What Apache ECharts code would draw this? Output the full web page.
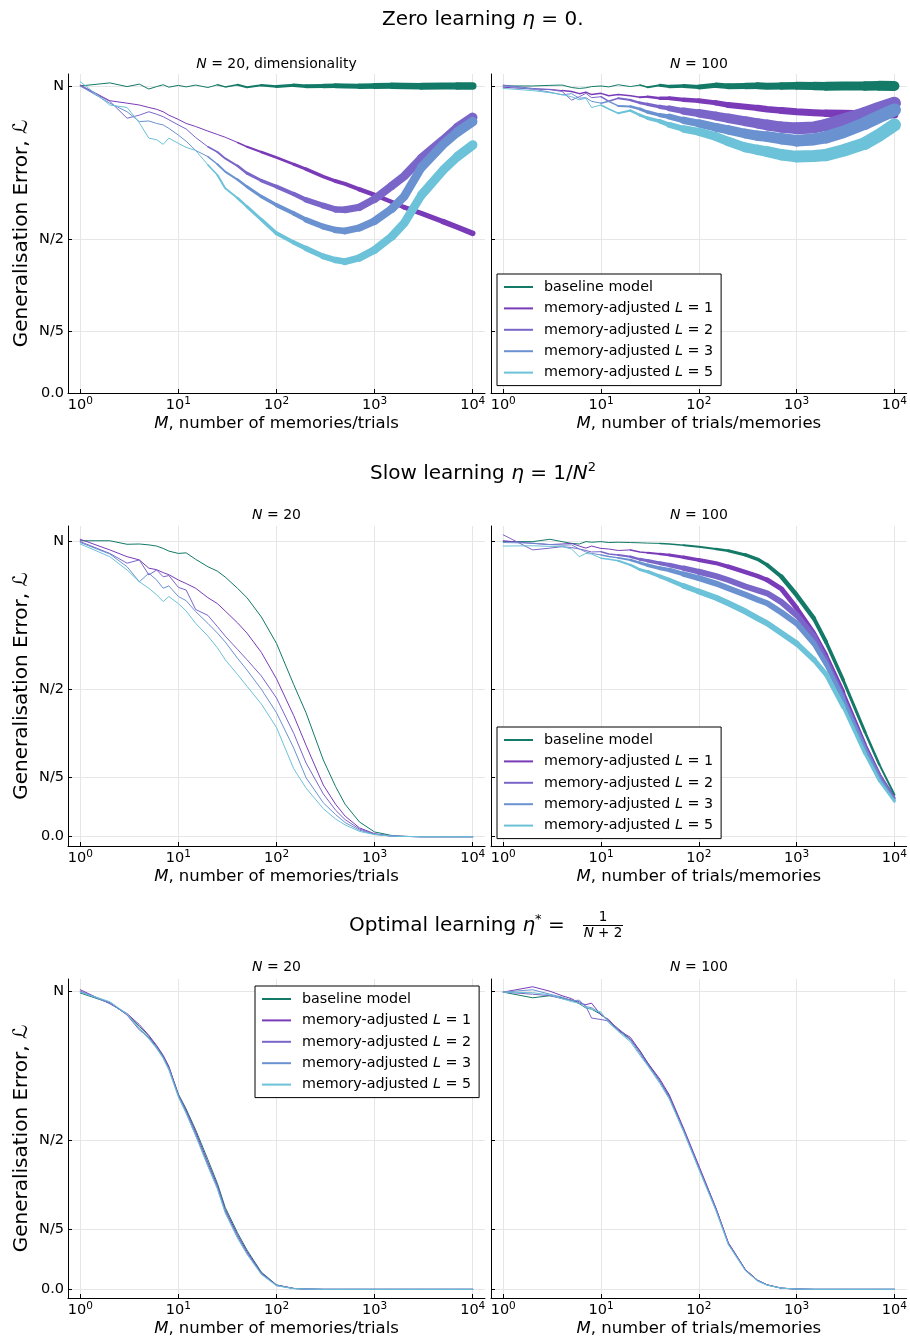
<!DOCTYPE html>
<html>
<head>
<meta charset="utf-8">
<script src="https://cdn.jsdelivr.net/npm/echarts@6/dist/echarts.min.js"></script>
<style>
html,body{margin:0;padding:0;background:#fff;}
#chart{width:910px;height:1340px;}
</style>
</head>
<body>
<div id="chart"></div>
<script>
// ---------- data ----------
const M_VALUES = [1,2,3,4,5,6,7,8,10,12,15,20,25,30,40,50,70,100,150,200,300,400,500,700,1000,1500,2000,3000,5000,7000,10000];
const SERIES_NAMES = ['baseline model','memory-adjusted L = 1','memory-adjusted L = 2','memory-adjusted L = 3','memory-adjusted L = 5'];
const X_TICK_EXPONENTS = [0,1,2,3,4];
const Y_TICK_VALUES = [0,0.2,0.5,1];
const Y_TICK_LABELS = ['0.0','N/5','N/2','N'];
const ROW_TITLES = ['Zero learning', 'Slow learning', 'Optimal learning'];
const PANEL_TITLES = ['N = 20, dimensionality','N = 100','N = 20','N = 100','N = 20','N = 100'];
const X_NAMES = ['M, number of memories/trials','M, number of trials/memories'];
const Y_NAME = 'Generalisation Error, ℒ';

// zero learning, N = 20
const ZERO20_BASE = [1.000,1.010,0.998,1.006,0.990,0.998,1.004,0.996,1.002,0.997,1.003,0.995,1.004,0.997,1.004,0.996,1.002,0.998,1.002,0.999,1.000,1.001,1.000,0.999,1.000,1.001,1.000,0.999,1.000,1.000,1.000];
const ZERO20_L1 = [1.003,0.952,0.944,0.938,0.930,0.924,0.916,0.905,0.891,0.878,0.868,0.853,0.842,0.833,0.816,0.802,0.785,0.767,0.745,0.729,0.705,0.690,0.681,0.663,0.645,0.622,0.605,0.585,0.558,0.540,0.520];
const ZERO20_L2 = [1.000,0.950,0.895,0.905,0.916,0.908,0.900,0.890,0.873,0.860,0.832,0.802,0.785,0.764,0.740,0.716,0.692,0.672,0.648,0.629,0.610,0.598,0.597,0.605,0.632,0.675,0.706,0.765,0.824,0.865,0.898];
const ZERO20_L3 = [1.000,0.944,0.916,0.884,0.886,0.878,0.873,0.862,0.840,0.820,0.790,0.770,0.745,0.721,0.695,0.672,0.640,0.612,0.585,0.564,0.542,0.531,0.528,0.538,0.560,0.600,0.640,0.735,0.810,0.850,0.884];
const ZERO20_L5 = [1.014,0.938,0.930,0.880,0.830,0.825,0.810,0.830,0.813,0.800,0.790,0.743,0.710,0.667,0.635,0.607,0.565,0.520,0.490,0.471,0.445,0.433,0.428,0.440,0.466,0.510,0.553,0.645,0.726,0.770,0.808];
// zero learning, N = 100
const ZERO100_BASE = [1.000,1.000,1.002,1.003,0.995,0.992,0.994,0.998,1.000,0.997,1.004,0.998,1.003,0.996,1.002,0.998,1.000,0.997,1.002,0.999,1.000,1.001,0.999,1.000,1.001,1.000,0.999,1.000,1.000,1.001,1.000];
const ZERO100_L1 = [0.996,0.990,0.989,0.985,0.982,0.975,0.980,0.972,0.976,0.968,0.972,0.968,0.963,0.965,0.960,0.960,0.955,0.952,0.945,0.938,0.932,0.928,0.924,0.920,0.916,0.913,0.911,0.910,0.909,0.908,0.907];
const ZERO100_L2 = [1.003,0.992,0.988,0.982,0.954,0.965,0.976,0.962,0.965,0.950,0.960,0.954,0.945,0.940,0.932,0.927,0.918,0.911,0.902,0.895,0.885,0.878,0.873,0.866,0.862,0.865,0.873,0.890,0.911,0.928,0.944];
const ZERO100_L3 = [1.000,0.990,0.980,0.971,0.975,0.960,0.962,0.950,0.944,0.950,0.935,0.933,0.925,0.915,0.905,0.900,0.888,0.878,0.865,0.857,0.845,0.838,0.835,0.828,0.822,0.826,0.833,0.850,0.878,0.900,0.922];
const ZERO100_L5 = [0.992,0.985,0.978,0.972,0.965,0.955,0.960,0.930,0.938,0.925,0.911,0.920,0.905,0.895,0.885,0.873,0.860,0.851,0.835,0.819,0.800,0.792,0.786,0.776,0.770,0.772,0.775,0.790,0.813,0.840,0.873];
// slow learning, N = 20
const SLOW20_BASE = [1.003,1.003,0.991,0.992,0.989,0.985,0.977,0.968,0.960,0.962,0.940,0.915,0.900,0.880,0.842,0.810,0.745,0.655,0.515,0.420,0.260,0.170,0.110,0.050,0.016,0.004,0.001,0,0,0,0];
const SLOW20_L1 = [1.008,0.972,0.949,0.938,0.910,0.905,0.895,0.888,0.870,0.858,0.842,0.810,0.790,0.765,0.725,0.690,0.625,0.535,0.410,0.310,0.175,0.110,0.070,0.030,0.010,0.002,0.001,0,0,0,0];
const SLOW20_L2 = [1.000,0.960,0.927,0.938,0.887,0.904,0.881,0.885,0.845,0.836,0.770,0.750,0.712,0.680,0.635,0.600,0.545,0.470,0.350,0.250,0.145,0.090,0.058,0.026,0.009,0.002,0.001,0,0,0,0];
const SLOW20_L3 = [0.997,0.958,0.915,0.864,0.893,0.870,0.842,0.850,0.814,0.800,0.763,0.723,0.690,0.660,0.605,0.565,0.500,0.420,0.300,0.200,0.115,0.075,0.048,0.022,0.008,0.002,0.001,0,0,0,0];
const SLOW20_L5 = [0.992,0.949,0.904,0.864,0.842,0.820,0.797,0.814,0.790,0.765,0.723,0.680,0.640,0.600,0.550,0.510,0.450,0.370,0.230,0.165,0.095,0.060,0.040,0.018,0.007,0.002,0.001,0,0,0,0];
// slow learning, N = 100
const SLOW100_BASE = [1.000,1.000,1.008,1.000,0.994,0.992,1.000,0.998,1.000,0.997,0.998,0.997,0.996,0.995,0.994,0.992,0.988,0.983,0.975,0.969,0.955,0.940,0.921,0.881,0.819,0.740,0.660,0.530,0.355,0.245,0.142];
const SLOW100_L1 = [1.003,0.994,0.990,0.992,0.994,0.985,0.978,0.985,0.977,0.975,0.970,0.972,0.965,0.962,0.958,0.955,0.947,0.938,0.927,0.915,0.897,0.883,0.870,0.840,0.775,0.690,0.615,0.490,0.315,0.215,0.133];
const SLOW100_L2 = [1.023,0.972,0.978,0.983,0.980,0.975,0.970,0.965,0.966,0.958,0.955,0.949,0.940,0.935,0.927,0.921,0.910,0.898,0.883,0.870,0.848,0.835,0.825,0.795,0.751,0.680,0.600,0.475,0.305,0.210,0.130];
const SLOW100_L3 = [0.997,0.995,0.990,0.988,0.989,0.975,0.965,0.960,0.955,0.950,0.945,0.938,0.928,0.920,0.910,0.904,0.890,0.876,0.858,0.842,0.820,0.803,0.791,0.760,0.723,0.655,0.585,0.465,0.298,0.200,0.124];
const SLOW100_L5 = [0.985,0.986,0.984,0.983,0.975,0.949,0.960,0.958,0.944,0.940,0.935,0.921,0.905,0.898,0.882,0.870,0.850,0.831,0.810,0.791,0.763,0.740,0.723,0.690,0.655,0.600,0.550,0.440,0.282,0.190,0.119];
// optimal learning, N = 20
const OPT20_BASE = [0.994,0.961,0.922,0.882,0.849,0.815,0.782,0.745,0.655,0.605,0.535,0.435,0.355,0.275,0.190,0.132,0.058,0.015,0.003,0.001,0,0,0,0,0,0,0,0,0,0,0];
const OPT20_L1 = [1.005,0.958,0.925,0.888,0.852,0.818,0.785,0.748,0.652,0.600,0.528,0.425,0.348,0.268,0.183,0.127,0.055,0.014,0.003,0.001,0,0,0,0,0,0,0,0,0,0,0];
const OPT20_L2 = [1.000,0.962,0.920,0.870,0.845,0.810,0.777,0.742,0.650,0.595,0.520,0.418,0.342,0.262,0.176,0.122,0.053,0.013,0.003,0.001,0,0,0,0,0,0,0,0,0,0,0];
const OPT20_L3 = [0.998,0.960,0.922,0.876,0.843,0.812,0.778,0.740,0.648,0.592,0.517,0.415,0.340,0.260,0.175,0.120,0.052,0.013,0.003,0.001,0,0,0,0,0,0,0,0,0,0,0];
const OPT20_L5 = [0.997,0.965,0.924,0.874,0.840,0.808,0.775,0.735,0.645,0.590,0.515,0.412,0.336,0.256,0.172,0.118,0.050,0.012,0.002,0.001,0,0,0,0,0,0,0,0,0,0,0];
// optimal learning, N = 100
const OPT100_BASE = [0.997,0.978,0.985,0.978,0.970,0.958,0.944,0.940,0.922,0.900,0.871,0.838,0.800,0.759,0.700,0.647,0.535,0.410,0.270,0.155,0.065,0.030,0.015,0.004,0.001,0,0,0,0,0,0];
const OPT100_L1 = [0.997,1.015,1.000,0.985,0.975,0.960,0.955,0.960,0.920,0.905,0.870,0.845,0.800,0.760,0.705,0.652,0.540,0.415,0.272,0.157,0.066,0.030,0.015,0.004,0.001,0,0,0,0,0,0];
const OPT100_L2 = [0.997,0.990,0.985,0.975,0.970,0.965,0.950,0.910,0.905,0.900,0.875,0.840,0.795,0.755,0.700,0.645,0.535,0.410,0.270,0.155,0.065,0.030,0.015,0.004,0.001,0,0,0,0,0,0];
const OPT100_L3 = [0.997,1.005,0.990,0.980,0.968,0.970,0.948,0.945,0.925,0.895,0.868,0.835,0.790,0.752,0.695,0.640,0.530,0.405,0.265,0.152,0.063,0.028,0.014,0.004,0.001,0,0,0,0,0,0];
const OPT100_L5 = [0.997,0.995,0.988,0.975,0.965,0.960,0.945,0.940,0.930,0.895,0.865,0.830,0.785,0.750,0.690,0.638,0.528,0.403,0.263,0.150,0.062,0.028,0.014,0.004,0.001,0,0,0,0,0,0];

// ---------- style / layout ----------
const FONT = "'DejaVu Sans', sans-serif";
const COLORS = ['#127a67','#7a3bb8','#7a66c9','#6b92d0','#6cc2d8'];
const ROWS = [
  {top:74, height:319, min:0, max:1.039},
  {top:526, height:320, min:-0.0315, max:1.053},
  {top:979, height:319, min:-0.029, max:1.041}
];
const COLS = [{left:68, width:417},{left:491, width:416}];
// line-width stops (style only): [M, width] pairs, the visual thickness of the noisy band
const THIN = [[1,1.1],[10000,1.1]];
const W_A_BASE = [[1,1],[20,1],[50,2],[200,3.5],[1000,6],[10000,7.5]];
const W_A_L1 = [[1,1],[30,1],[100,2.5],[1000,4.5],[10000,5.5]];
const W_A_LX = [[1,1],[15,1],[50,2.5],[200,5],[1000,8],[10000,9.5]];
const W_B_BASE = [[1,1],[20,1],[100,4.5],[1000,8],[10000,10]];
const W_B_L1 = [[1,1],[20,1.5],[100,5],[1000,7],[10000,8]];
const W_B_LX = [[1,1],[10,1.2],[30,3],[100,8],[1000,12],[10000,13]];
const W_D_BASE = [[1,1],[30,1],[100,2],[1000,4.5],[3000,3.5],[10000,2]];
const W_D_L1 = [[1,1],[20,1.2],[100,4],[1000,5],[3000,3.5],[10000,2]];
const W_D_LX = [[1,1],[10,1.2],[30,3],[100,6],[1000,6],[3000,4],[10000,2]];
const PANELS = [
  {row:0,col:0,data:[ZERO20_BASE,ZERO20_L1,ZERO20_L2,ZERO20_L3,ZERO20_L5],widths:[W_A_BASE,W_A_L1,W_A_LX,W_A_LX,W_A_LX]},
  {row:0,col:1,data:[ZERO100_BASE,ZERO100_L1,ZERO100_L2,ZERO100_L3,ZERO100_L5],widths:[W_B_BASE,W_B_L1,W_B_LX,W_B_LX,W_B_LX]},
  {row:1,col:0,data:[SLOW20_BASE,SLOW20_L1,SLOW20_L2,SLOW20_L3,SLOW20_L5],widths:[THIN,THIN,THIN,THIN,THIN]},
  {row:1,col:1,data:[SLOW100_BASE,SLOW100_L1,SLOW100_L2,SLOW100_L3,SLOW100_L5],widths:[W_D_BASE,W_D_L1,W_D_LX,W_D_LX,W_D_LX]},
  {row:2,col:0,data:[OPT20_BASE,OPT20_L1,OPT20_L2,OPT20_L3,OPT20_L5],widths:[THIN,THIN,THIN,THIN,THIN]},
  {row:2,col:1,data:[OPT100_BASE,OPT100_L1,OPT100_L2,OPT100_L3,OPT100_L5],widths:[THIN,THIN,THIN,THIN,THIN]}
];

function widthAt(stops, m) {
  const lm = Math.log10(m);
  for (let i = 0; i < stops.length - 1; i++) {
    const a = Math.log10(stops[i][0]), b = Math.log10(stops[i + 1][0]);
    if (lm <= b) {
      const t = b === a ? 0 : Math.max(0, (lm - a) / (b - a));
      return stops[i][1] + t * (stops[i + 1][1] - stops[i][1]);
    }
  }
  return stops[stops.length - 1][1];
}

const grids = [], xAxes = [], yAxes = [], series = [];
const italic = {fontStyle:'italic', fontFamily:FONT, color:'#000'};

PANELS.forEach((p, pi) => {
  const r = ROWS[p.row], c = COLS[p.col];
  grids.push({left:c.left, width:c.width, top:r.top, height:r.height, containLabel:false});
  xAxes.push({
    type:'value', gridIndex:pi, min:-0.125, max:4.125,
    axisLine:{show:true, onZero:false, lineStyle:{color:'#000', width:1}},
    axisTick:{show:true, inside:true, length:4, customValues:X_TICK_EXPONENTS, lineStyle:{color:'#000'}},
    axisLabel:{customValues:X_TICK_EXPONENTS, margin:3,
      formatter:v => '{b|10}{s|' + v + '}',
      rich:{b:{fontSize:14.5, fontFamily:FONT, color:'#000', lineHeight:18},
            s:{fontSize:10.5, fontFamily:FONT, color:'#000', lineHeight:11, verticalAlign:'top'}}},
    splitLine:{show:true, lineStyle:{color:'#e6e6e6', width:1}},
    name:X_NAMES[p.col].replace(/^M/, '{i|M}'), nameLocation:'middle', nameGap:22,
    nameTextStyle:{fontSize:16.5, fontFamily:FONT, color:'#000', rich:{i:Object.assign({fontSize:16.5}, italic)}}
  });
  const y = {
    type:'value', gridIndex:pi, min:r.min, max:r.max,
    axisLine:{show:true, onZero:false, lineStyle:{color:'#000', width:1}},
    axisTick:{show:true, inside:true, length:4, customValues:Y_TICK_VALUES, lineStyle:{color:'#000'}},
    axisLabel:{show:p.col === 0, customValues:Y_TICK_VALUES, margin:4,
      formatter:v => Y_TICK_LABELS[Y_TICK_VALUES.indexOf(v)],
      fontSize:14.5, fontFamily:FONT, color:'#000'},
    splitLine:{show:true, lineStyle:{color:'#e6e6e6', width:1}}
  };
  if (p.col === 0) {
    Object.assign(y, {name:Y_NAME, nameLocation:'middle', nameGap:36, nameRotate:90,
      nameTextStyle:{fontSize:20, fontFamily:FONT, color:'#000'}});
  }
  yAxes.push(y);

  p.data.forEach((ys, k) => {
    const stops = p.widths[k];
    // split into runs of equal (rounded) width between consecutive samples
    let run = null;
    const flush = () => {
      if (run) series.push({
        type:'line', name:SERIES_NAMES[k], xAxisIndex:pi, yAxisIndex:pi,
        data:run.pts, symbol:'none', showSymbol:false, silent:true,
        lineStyle:{color:COLORS[k], width:run.w, join:'round', cap:'round'},
        itemStyle:{color:COLORS[k]}
      });
    };
    for (let j = 0; j < M_VALUES.length - 1; j++) {
      const w = Math.round(widthAt(stops, Math.sqrt(M_VALUES[j] * M_VALUES[j + 1])) * 2) / 2;
      const a = [Math.log10(M_VALUES[j]), ys[j]], b = [Math.log10(M_VALUES[j + 1]), ys[j + 1]];
      if (run && run.w === w) { run.pts.push(b); }
      else { flush(); run = {w:w, pts:[a, b]}; }
    }
    flush();
  });
});

function makeLegend(left, top) {
  return {
    left:left, top:top, orient:'vertical', data:SERIES_NAMES,
    icon:'rect', itemWidth:29, itemHeight:2, itemGap:5.4,
    padding:[5,8,5,7], borderColor:'#000', borderWidth:1, borderRadius:0, backgroundColor:'#fff',
    selectedMode:false,
    formatter:n => n.replace('L = ', '{i|L} = '),
    textStyle:{fontSize:14.3, fontFamily:FONT, color:'#000', lineHeight:16, padding:[0,0,0,6],
      rich:{i:Object.assign({fontSize:14.3, lineHeight:16}, italic)}}
  };
}

const titleRich = {
  t:{fontSize:20, fontFamily:FONT, color:'#000', lineHeight:26},
  i:{fontSize:20, fontFamily:FONT, color:'#000', fontStyle:'italic', lineHeight:26},
  s:{fontSize:13, fontFamily:FONT, color:'#000', lineHeight:13, verticalAlign:'top'}
};
const subRich = {
  t:{fontSize:14, fontFamily:FONT, color:'#000'},
  i:{fontSize:14, fontFamily:FONT, color:'#000', fontStyle:'italic'}
};
const fracRich = {
  t:{fontSize:13.5, fontFamily:FONT, color:'#000'},
  i:{fontSize:13.5, fontFamily:FONT, color:'#000', fontStyle:'italic'}
};
const graphics = [
  {type:'text', x:382, y:20, style:{text:'{t|' + ROW_TITLES[0] + ' }{i|η}{t| = 0.}', rich:titleRich, verticalAlign:'middle', align:'left'}},
  {type:'text', x:370, y:474, style:{text:'{t|' + ROW_TITLES[1] + ' }{i|η}{t| = 1/}{i|N}{s|2}', rich:titleRich, verticalAlign:'middle', align:'left'}},
  {type:'text', x:349, y:926, style:{text:'{t|' + ROW_TITLES[2] + ' }{i|η}{s|*}{t| =}', rich:titleRich, verticalAlign:'middle', align:'left'}},
  {type:'text', x:603, y:917.5, style:{text:'{t|1}', rich:fracRich, align:'center', verticalAlign:'middle'}},
  {type:'line', shape:{x1:583, y1:925.5, x2:623, y2:925.5}, style:{stroke:'#000', lineWidth:1}},
  {type:'text', x:603, y:933, style:{text:'{i|N}{t| + 2}', rich:fracRich, align:'center', verticalAlign:'middle'}}
];
const subY = [64, 515, 967];
PANELS.forEach((p, pi) => {
  const c = COLS[p.col];
  graphics.push({type:'text', x:c.left + c.width / 2, y:subY[p.row],
    style:{text:PANEL_TITLES[pi].replace(/^N/, '{i|N}{t|').concat('}'), rich:subRich, align:'center', verticalAlign:'middle'}});
});

const chart = echarts.init(document.getElementById('chart'), null, {renderer:'canvas'});
chart.setOption({
  backgroundColor:'#fff',
  animation:false,
  grid:grids, xAxis:xAxes, yAxis:yAxes, series:series,
  legend:[makeLegend(497,274), makeLegend(497,727), makeLegend(255,986)],
  graphic:graphics
});
</script>
</body>
</html>
